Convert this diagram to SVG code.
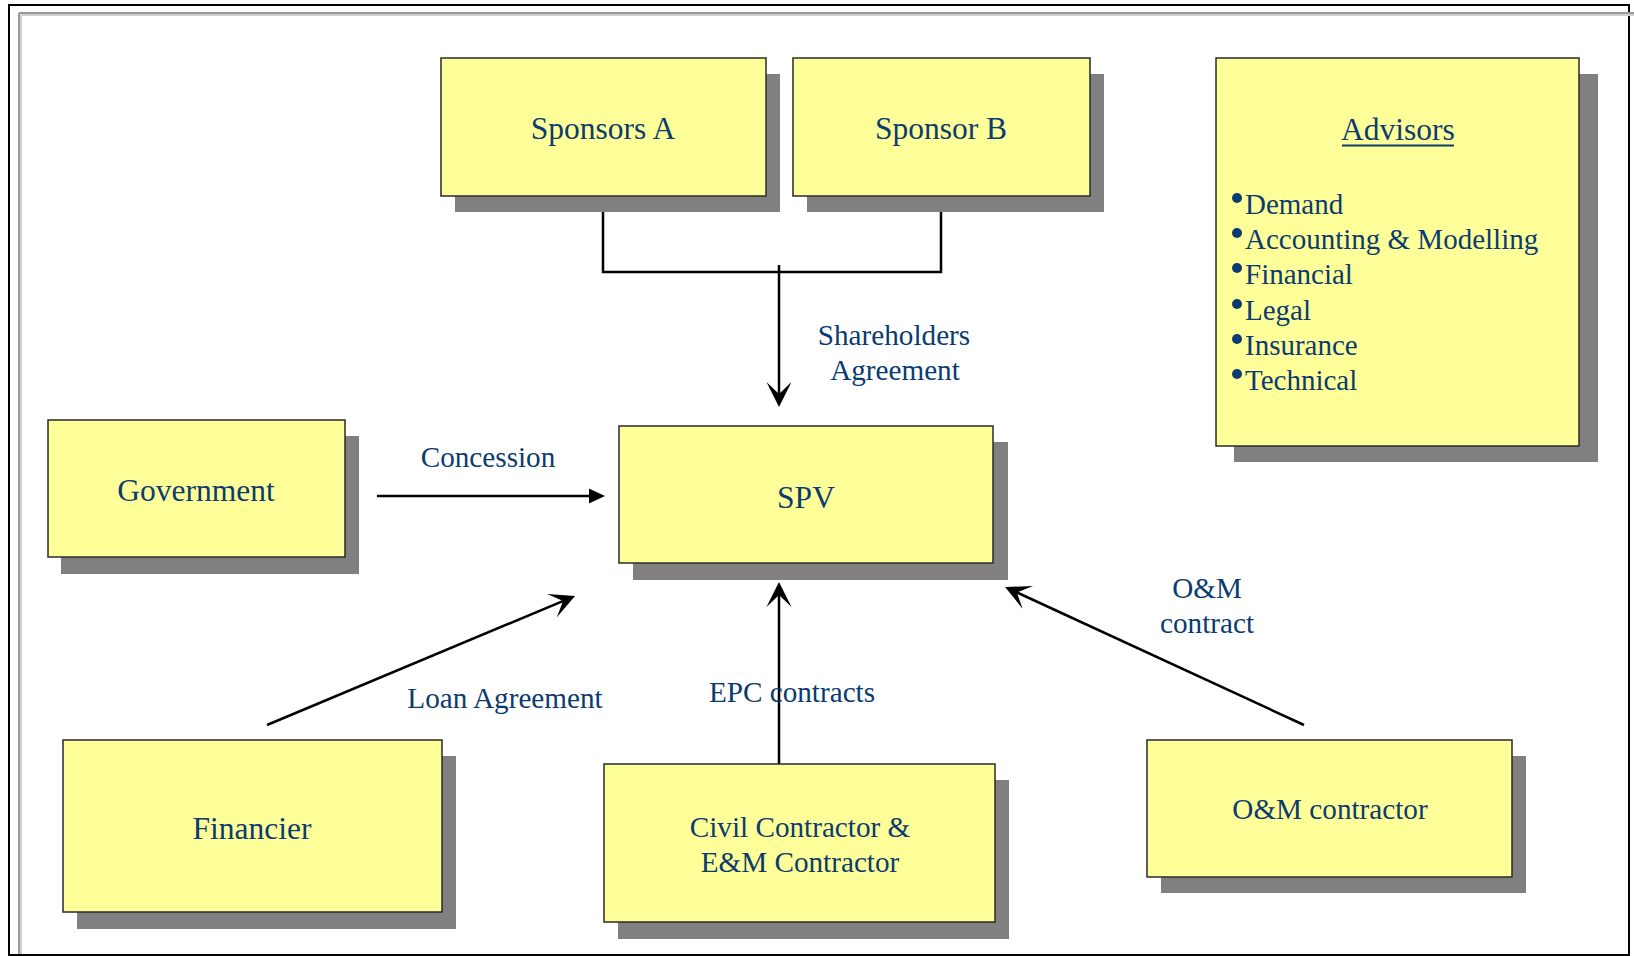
<svg xmlns="http://www.w3.org/2000/svg" width="1634" height="956" viewBox="0 0 1634 956">
<style>
.box{fill:#FFFF99;stroke:#2a2a2a;stroke-width:1.5}
.sh{fill:#808080}
.t{font-family:"Liberation Serif","Times New Roman",serif;fill:#0b3b6f;text-anchor:middle}
.big{font-size:31.5px}
.mid{font-size:29.2px}
.li{font-family:"Liberation Serif","Times New Roman",serif;fill:#0b3b6f;font-size:29px}
.con{stroke:#000;stroke-width:2.5;fill:none}
</style>
<defs>
<marker id="barb" markerUnits="userSpaceOnUse" markerWidth="30" markerHeight="30" viewBox="0 0 30 30" refX="16" refY="15" orient="auto">
<path d="M28,15 L3,2.5 L15,15 L3,27.5 Z" fill="#000"/>
</marker>
<marker id="tri" markerUnits="userSpaceOnUse" markerWidth="20" markerHeight="20" viewBox="0 0 20 20" refX="4" refY="10" orient="auto">
<path d="M18,10 L2,2.5 L2,17.5 Z" fill="#000"/>
</marker>
</defs>
<rect width="1634" height="956" fill="#fff"/>
<g id="frame">
<rect x="9" y="5" width="1620" height="950" fill="none" stroke="#000" stroke-width="2"/>
<line x1="19" y1="13" x2="1634" y2="13" stroke="#9a9a9a" stroke-width="2"/>
<line x1="21" y1="15" x2="1634" y2="15" stroke="#d0d0d0" stroke-width="2"/>
<line x1="19" y1="13" x2="19" y2="954" stroke="#9a9a9a" stroke-width="2"/>
<line x1="21" y1="15" x2="21" y2="954" stroke="#d0d0d0" stroke-width="2"/>
</g>
<g id="connectors">
<polyline class="con" stroke-width="2" points="603,196 603,272 941,272 941,196"/>
<line class="con" x1="779" y1="265" x2="779" y2="395" marker-end="url(#barb)"/>
<line class="con" x1="377" y1="496" x2="591" y2="496" stroke-width="3.2" marker-end="url(#tri)"/>
<line class="con" x1="267" y1="725" x2="564" y2="600.6" marker-end="url(#barb)"/>
<line class="con" x1="779" y1="764" x2="779" y2="594" marker-end="url(#barb)"/>
<line class="con" x1="1304" y1="725" x2="1016" y2="592" marker-end="url(#barb)"/>
</g>
<g id="labels">
<text class="t mid" x="488" y="467">Concession</text>
<text class="t mid" x="894" y="345">Shareholders</text>
<text class="t mid" x="895" y="380">Agreement</text>
<text class="t mid" x="505" y="708">Loan Agreement</text>
<text class="t mid" x="792" y="702">EPC contracts</text>
<text class="t mid" x="1207" y="598">O&amp;M</text>
<text class="t mid" x="1207" y="633">contract</text>
</g>
<g id="sponsorA">
<rect class="sh" x="455" y="74" width="325" height="138"/>
<rect class="box" x="441" y="58" width="325" height="138"/>
<text class="t big" x="603" y="139">Sponsors A</text>
</g>
<g id="sponsorB">
<rect class="sh" x="807" y="74" width="297" height="138"/>
<rect class="box" x="793" y="58" width="297" height="138"/>
<text class="t big" x="941" y="139">Sponsor B</text>
</g>
<g id="advisors">
<rect class="sh" x="1234" y="74" width="364" height="388"/>
<rect class="box" x="1216" y="58" width="363" height="388"/>
<text class="t big" x="1398" y="140">Advisors</text>
<line x1="1342" y1="145.5" x2="1454" y2="145.5" stroke="#0b3b6f" stroke-width="2"/>
<g fill="#0b3b6f">
<circle cx="1237" cy="198" r="5"/>
<circle cx="1237" cy="233" r="5"/>
<circle cx="1237" cy="268" r="5"/>
<circle cx="1237" cy="304" r="5"/>
<circle cx="1237" cy="339" r="5"/>
<circle cx="1237" cy="374" r="5"/>
</g>
<text class="li" x="1245" y="214">Demand</text>
<text class="li" x="1245" y="249">Accounting &amp; Modelling</text>
<text class="li" x="1245" y="284">Financial</text>
<text class="li" x="1245" y="320">Legal</text>
<text class="li" x="1245" y="355">Insurance</text>
<text class="li" x="1245" y="390">Technical</text>
</g>
<g id="government">
<rect class="sh" x="61" y="436" width="298" height="138"/>
<rect class="box" x="48" y="420" width="297" height="137"/>
<text class="t big" x="196" y="501">Government</text>
</g>
<g id="spv">
<rect class="sh" x="633" y="442" width="375" height="138"/>
<rect class="box" x="619" y="426" width="374" height="137"/>
<text class="t big" x="806" y="508">SPV</text>
</g>
<g id="financier">
<rect class="sh" x="77" y="756" width="379" height="173"/>
<rect class="box" x="63" y="740" width="379" height="172"/>
<text class="t big" x="252" y="839">Financier</text>
</g>
<g id="civil">
<rect class="sh" x="618" y="780" width="391" height="159"/>
<rect class="box" x="604" y="764" width="391" height="158"/>
<text class="t mid" x="800" y="837">Civil Contractor &amp;</text>
<text class="t mid" x="800" y="872">E&amp;M Contractor</text>
</g>
<g id="omcontractor">
<rect class="sh" x="1161" y="756" width="365" height="137"/>
<rect class="box" x="1147" y="740" width="365" height="137"/>
<text class="t mid" x="1330" y="819">O&amp;M contractor</text>
</g>
</svg>
